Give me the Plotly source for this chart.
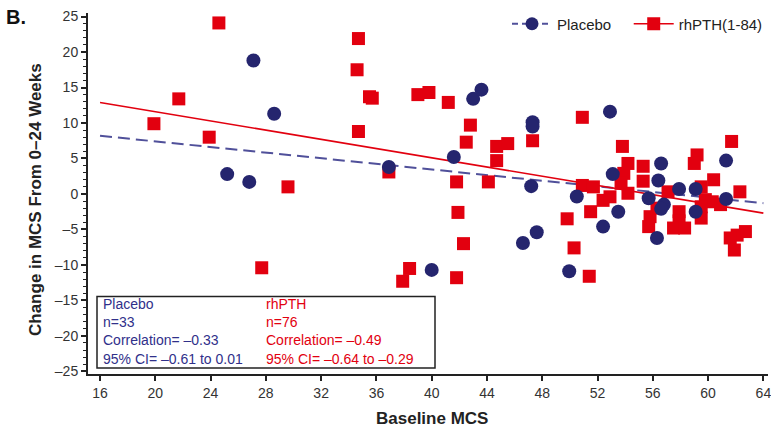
import plotly.graph_objects as go

# Baseline MCS vs change in MCS over 0-24 weeks
placebo_x = [27.1, 28.6, 25.2, 26.8, 36.9, 41.6, 43.0, 43.6, 40.0, 47.3, 47.3, 52.9,
             47.2, 50.5, 53.1, 56.6, 56.4, 57.9, 59.1, 61.3, 55.7, 46.6, 47.6, 49.95,
             52.4, 53.5, 56.3, 56.8, 59.1, 61.3, 56.6]
placebo_y = [18.8, 11.3, 2.8, 1.7, 3.8, 5.2, 13.4, 14.7, -10.7, 10.1, 9.5, 11.6,
             1.1, -0.35, 2.8, 4.3, 1.9, 0.7, 0.7, 4.7, -0.6, -6.9, -5.4, -10.9,
             -4.6, -2.5, -6.2, -1.5, -2.5, -0.7, -2.1]

rh_x = [19.9, 21.7, 23.9, 24.6, 27.7, 29.6, 34.7, 34.6, 35.5, 35.7, 34.7, 36.9,
        37.9, 38.4, 39.0, 39.8, 41.2, 42.8, 42.5, 41.8, 44.1, 44.7, 45.5, 44.7,
        41.9, 42.3, 41.8, 47.3, 50.9, 50.9, 51.7, 49.8, 50.3, 51.4, 51.5, 52.4,
        52.9, 53.8, 54.2, 53.9, 53.7, 54.2, 55.3, 55.3, 57.1, 56.3, 55.8, 55.7,
        57.9, 57.9, 57.5, 58.3, 59.2, 59.0, 61.7, 60.4, 59.5, 62.3, 59.8, 60.3,
        60.9, 59.5, 59.5, 62.7, 62.1, 61.6, 61.9]
rh_y = [9.9, 13.4, 8.0, 24.1, -10.4, 1.0, 21.9, 17.5, 13.7, 13.5, 8.8, 3.1,
        -12.3, -10.5, 14.0, 14.3, 12.9, 9.7, 7.3, 1.7, 1.7, 6.7, 7.1, 4.7,
        -2.6, -7.0, -11.8, 7.5, 10.8, 1.2, 1.0, -3.5, -7.6, -11.6, -2.5, -0.9,
        -0.4, 6.7, 4.3, 2.9, 1.5, 0.1, 3.9, 1.8, 0.3, -2.0, -3.2, -4.6,
        -2.5, -3.8, -4.8, -4.8, 5.5, 4.3, 7.4, 2.0, 1.0, 0.3, -0.8, -1.1,
        -1.5, -1.8, -3.4, -5.3, -5.8, -6.2, -7.9]

# Fitted regression lines (end points)
fit_x = [16, 64]
placebo_fit = [8.2, -1.3]
rh_fit = [12.9, -2.7]

x_ticks = [16, 20, 24, 28, 32, 36, 40, 44, 48, 52, 56, 60, 64]
y_ticks = [-25, -20, -15, -10, -5, 0, 5, 10, 15, 20, 25]
y_ticktext = ["–25", "–20", "–15", "–10", "–5", "0", "5", "10", "15", "20", "25"]

placebo_stats = ["Placebo", "n=33", "Correlation= –0.33", "95% CI= –0.61 to 0.01"]
rh_stats = ["rhPTH", "n=76", "Correlation= –0.49", "95% CI= –0.64 to –0.29"]

NAVY = "#25256e"
NAVY_LINE = "#50509a"
NAVY_TEXT = "#30308a"
RED = "#e2000f"
FONT = "Liberation Sans, Arial, Helvetica, sans-serif"
DASH = "12px,6px"

# plot area geometry (pixels)
L, R, T, B = 88, 3, 13, 55
PW = 771 - L - R
PH = 429 - T - B
X_LO = 15.13
X_HI = X_LO + PW / 13.82


def px(x):
    return (x - L) / PW


def py(y):
    return (429 - B - y) / PH


fig = go.Figure()

fig.add_trace(go.Scatter(x=fit_x, y=placebo_fit, mode="lines", showlegend=False,
                         line=dict(color=NAVY_LINE, width=2, dash=DASH), hoverinfo="skip"))
fig.add_trace(go.Scatter(x=fit_x, y=rh_fit, mode="lines", showlegend=False,
                         line=dict(color=RED, width=1.6), hoverinfo="skip"))

fig.add_trace(go.Scatter(x=rh_x, y=rh_y, mode="markers", showlegend=False,
                         marker=dict(symbol="square", size=13, color=RED, line=dict(width=0))))
fig.add_trace(go.Scatter(x=placebo_x, y=placebo_y, mode="markers", showlegend=False,
                         marker=dict(symbol="circle", size=14, color=NAVY, line=dict(width=0))))

# legend entries
fig.add_trace(go.Scatter(x=[None], y=[None], mode="lines+markers",
                         name="Placebo\u00a0\u00a0\u00a0",
                         line=dict(color=NAVY_LINE, width=2, dash="6px,4px"),
                         marker=dict(symbol="circle", size=13, color=NAVY)))
fig.add_trace(go.Scatter(x=[None], y=[None], mode="lines+markers", name="rhPTH(1-84)",
                         line=dict(color=RED, width=1.6),
                         marker=dict(symbol="square", size=13, color=RED)))

annotations = []
# statistics box text, one block per group
box_mid = py(331)
annotations.append(dict(x=px(101), y=box_mid, xref="paper", yref="paper",
                        xanchor="left", yanchor="middle", align="left",
                        text="<br>".join(placebo_stats), showarrow=False,
                        font=dict(family=FONT, size=14, color=NAVY_TEXT)))
annotations.append(dict(x=px(264), y=box_mid, xref="paper", yref="paper",
                        xanchor="left", yanchor="middle", align="left",
                        text="<br>".join(rh_stats), showarrow=False,
                        font=dict(family=FONT, size=14, color=RED)))

annotations.append(dict(x=px(432), y=py(428.5), xref="paper", yref="paper",
                        xanchor="center", yanchor="bottom", borderpad=0,
                        text="<b>Baseline MCS</b>",
                        showarrow=False, font=dict(family=FONT, size=17, color="#222")))
annotations.append(dict(x=px(36), y=py(200), xref="paper", yref="paper",
                        xanchor="center", yanchor="middle", textangle=-90,
                        text="<b>Change in MCS From 0–24 Weeks</b>",
                        showarrow=False, font=dict(family=FONT, size=17, color="#222")))
annotations.append(dict(x=px(4), y=py(17), xref="paper", yref="paper",
                        xanchor="left", yanchor="middle", text="<b>B.</b>",
                        showarrow=False, font=dict(family=FONT, size=20, color="#111")))

fig.update_layout(
    width=771, height=429,
    margin=dict(l=L, r=R, t=T, b=B),
    paper_bgcolor="white", plot_bgcolor="white",
    font=dict(family=FONT, color="#333"),
    annotations=annotations,
    shapes=[dict(type="rect", xref="paper", yref="paper",
                 x0=px(97), x1=px(435), y0=py(368), y1=py(296.5),
                 line=dict(color="#222", width=1.5), fillcolor="rgba(0,0,0,0)")],
    legend=dict(orientation="h", x=1.0, xanchor="right", y=py(24),
                yanchor="middle", font=dict(family=FONT, size=15, color="#222"),
                bgcolor="rgba(0,0,0,0)", itemwidth=40),
    xaxis=dict(range=[X_LO, X_HI], tickmode="array", tickvals=x_ticks,
               ticks="outside", ticklen=5, tickwidth=1.5, tickcolor="#222",
               showline=True, linewidth=2, linecolor="#222",
               showgrid=False, zeroline=False, automargin=False,
               ticklabeloverflow="allow",
               tickfont=dict(family=FONT, size=14, color="#333")),
    yaxis=dict(range=[-25.37, 25.5], tickmode="array", tickvals=y_ticks, ticktext=y_ticktext,
               ticks="outside", ticklen=5, tickwidth=1.5, tickcolor="#222",
               minor=dict(dtick=1, ticks="outside", ticklen=3, tickwidth=1, tickcolor="#222"),
               showline=True, linewidth=2, linecolor="#222",
               showgrid=False, zeroline=False, automargin=False,
               tickfont=dict(family=FONT, size=14, color="#333")),
)

fig.write_html("out.html")
